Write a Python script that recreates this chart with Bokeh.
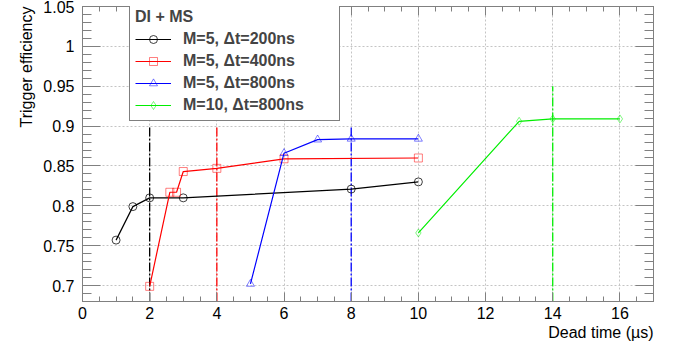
import numpy as np
from bokeh.plotting import figure
from bokeh.models import (FixedTicker, LinearAxis, Legend, LegendItem, Range1d,
                          CustomLabelingPolicy, Title)
from bokeh.embed import file_html
from bokeh.resources import INLINE

# ---- data ----
black_x = [1, 1.5, 2, 3, 8, 10]
black_y = [0.757, 0.799, 0.810, 0.810, 0.821, 0.830]

red_x = [2, 2.6, 2.8, 3, 4, 6, 10]
red_y = [0.699, 0.817, 0.817, 0.843, 0.847, 0.859, 0.860]

blue_x = [5, 6, 7, 8, 10]
blue_y = [0.702, 0.866, 0.883, 0.884, 0.884]

green_x = [10, 13, 14, 16]
green_y = [0.766, 0.906, 0.909, 0.909]

series_labels = ["M=5, \u0394t=200ns", "M=5, \u0394t=400ns", "M=5, \u0394t=800ns", "M=10, \u0394t=800ns"]
legend_title = "DI + MS"

cut_x = [2, 4, 8, 14]
cut_top = [0.9, 0.9, 0.9, 0.95]
cut_colors = ["black", "red", "blue", "#00ee00"]

x_ticks = [0, 2, 4, 6, 8, 10, 12, 14, 16]
y_ticks = [0.7, 0.75, 0.8, 0.85, 0.9, 0.95, 1.0, 1.05]
y_tick_labels = ["0.7", "0.75", "0.8", "0.85", "0.9", "0.95", "1", "1.05"]

x_title = "Dead time (\u00b5s)"
y_title = "Trigger efficiency"

FONT = "Liberation Sans"
AX_COL = "#808080"

X0, X1 = 0, 17
Y0, Y1 = 0.68, 1.05

p = figure(width=676, height=349, x_range=Range1d(X0, X1), y_range=Range1d(Y0, Y1),
           output_backend="svg", toolbar_location=None,
           min_border_left=82, min_border_right=23, min_border_top=6, min_border_bottom=48,
           background_fill_color="white", border_fill_color="white")
p.outline_line_color = AX_COL

x_minor = [float(v) for v in np.arange(0, 17.01, 0.5)]
y_minor = [round(float(v), 2) for v in np.arange(0.68, 1.0501, 0.01)]

no_labels = CustomLabelingPolicy(code="for (const i of indices) { indices.unset(i) }\nreturn indices")

def style_x(ax, show):
    ax.ticker = FixedTicker(ticks=x_ticks, minor_ticks=x_minor)
    ax.axis_line_color = AX_COL
    ax.major_tick_line_color = AX_COL
    ax.minor_tick_line_color = AX_COL
    ax.major_tick_in = 9
    ax.major_tick_out = 0
    ax.minor_tick_in = 5
    ax.minor_tick_out = 0
    ax.major_label_text_font = FONT
    ax.major_label_text_font_size = "16px" if show else "1px"
    ax.major_label_text_color = "black"
    ax.major_label_standoff = 5 if show else 0
    if not show:
        ax.major_label_policy = no_labels

def style_y(ax, show):
    ax.ticker = FixedTicker(ticks=y_ticks, minor_ticks=y_minor)
    ax.axis_line_color = AX_COL
    ax.major_tick_line_color = AX_COL
    ax.minor_tick_line_color = AX_COL
    ax.major_tick_in = 18
    ax.major_tick_out = 0
    ax.minor_tick_in = 9
    ax.minor_tick_out = 0
    ax.major_label_text_font = FONT
    ax.major_label_text_font_size = "16px" if show else "1px"
    ax.major_label_text_color = "black"
    ax.major_label_standoff = 8 if show else 0
    ax.major_label_overrides = {t: l for t, l in zip(y_ticks, y_tick_labels)}
    if not show:
        ax.major_label_policy = no_labels

style_x(p.xaxis[0], True)
style_y(p.yaxis[0], True)

top = LinearAxis()
style_x(top, False)
p.add_layout(top, "above")
right = LinearAxis()
style_y(right, False)
p.add_layout(right, "right")

p.xgrid.ticker = FixedTicker(ticks=x_ticks)
p.ygrid.ticker = FixedTicker(ticks=y_ticks)
for g in (p.xgrid, p.ygrid):
    g.grid_line_color = "#c4c4c4"
    g.grid_line_dash = "2 2"
    g.grid_line_width = 1

# axis titles, right/top aligned as in the original
xt = Title(text=x_title, align="right", text_font=FONT, text_font_size="16px",
           text_font_style="normal", text_color="black", standoff=0)
p.add_layout(xt, "below")
yt = Title(text=y_title, align="right", text_font=FONT, text_font_size="16px",
           text_font_style="normal", text_color="black", standoff=12)
p.add_layout(yt, "left")

# vertical cut lines
p.segment(x0=cut_x, y0=[Y0] * len(cut_x), x1=cut_x, y1=cut_top,
          line_color=cut_colors, line_dash="9 2 2 2", line_width=1.3)

series = [
    (black_x, black_y, "black", "circle", 8, 0.75),
    (red_x, red_y, "red", "square", 8, 0.5),
    (blue_x, blue_y, "blue", "triangle", 8, 0.5),
    (green_x, green_y, "#00ee00", "diamond", 8, 0.5),
]
items = []
for (xs, ys, col, mk, sz, malpha), lab in zip(series, series_labels):
    lr = p.line(xs, ys, line_color=col, line_width=1.2)
    mr = p.scatter(xs, ys, marker=mk, size=sz, fill_color=None, line_color=col,
                   line_alpha=malpha, line_width=1)
    items.append(LegendItem(label=lab, renderers=[lr, mr]))

legend = Legend(items=items, location=(47, 180), title=legend_title)
legend.title_text_font = FONT
legend.title_text_font_size = "16px"
legend.title_text_font_style = "bold"
legend.title_standoff = 3
legend.label_text_font = FONT
legend.label_text_font_size = "16px"
legend.label_text_font_style = "bold"
legend.glyph_width = 36
legend.glyph_height = 20
legend.label_height = 20
legend.label_width = 151
legend.spacing = 2
legend.padding = 5
legend.margin = 0
legend.label_standoff = 12
legend.border_line_color = "black"
legend.border_line_width = 1
legend.background_fill_color = "white"
legend.background_fill_alpha = 1
p.add_layout(legend)

open("out.html", "w").write(file_html(p, INLINE))
